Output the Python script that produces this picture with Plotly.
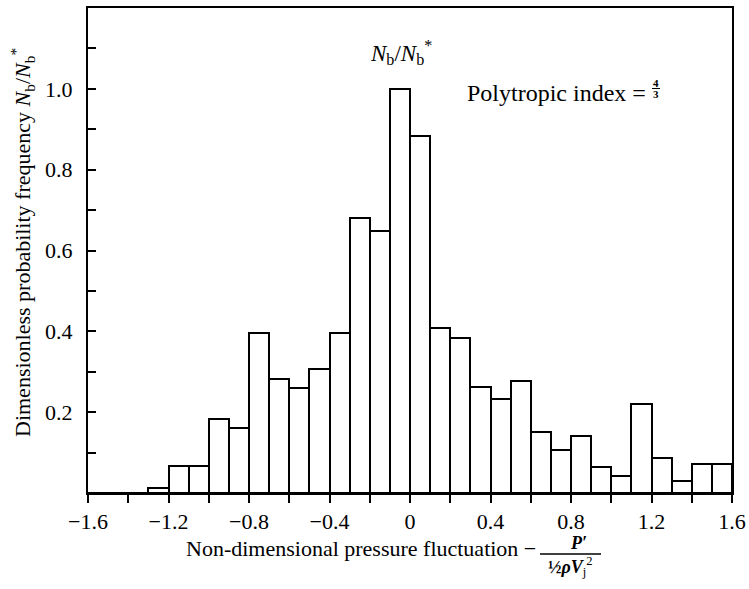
import plotly.graph_objects as go

# Bin centres of the pressure-fluctuation histogram (bin width 0.1)
bin_centres = [-1.55, -1.45, -1.35, -1.25, -1.15, -1.05, -0.95, -0.85,
               -0.75, -0.65, -0.55, -0.45, -0.35, -0.25, -0.15, -0.05,
               0.05, 0.15, 0.25, 0.35, 0.45, 0.55, 0.65, 0.75,
               0.85, 0.95, 1.05, 1.15, 1.25, 1.35, 1.45, 1.55]
bin_width = 0.1
# Dimensionless probability frequency Nb/Nb*
frequency = [0.0, 0.0, 0.0, 0.013, 0.067, 0.067, 0.183, 0.160,
             0.395, 0.282, 0.261, 0.306, 0.397, 0.680, 0.649, 1.000,
             0.884, 0.408, 0.384, 0.263, 0.233, 0.276, 0.152, 0.106,
             0.141, 0.064, 0.042, 0.220, 0.086, 0.030, 0.073, 0.073]

x_tick_vals = [-1.6, -1.4, -1.2, -1.0, -0.8, -0.6, -0.4, -0.2, 0.0,
               0.2, 0.4, 0.6, 0.8, 1.0, 1.2, 1.4, 1.6]
x_tick_text = ["\u22121.6", "", "\u22121.2", "", "\u22120.8", "", "\u22120.4", "", "0",
               "", "0.4", "", "0.8", "", "1.2", "", "1.6"]
y_tick_vals = [0.1, 0.2, 0.3, 0.4, 0.5, 0.6, 0.7, 0.8, 0.9, 1.0, 1.1]
y_tick_text = ["", "0.2", "", "0.4", "", "0.6", "", "0.8", "", "1.0", ""]

FONT = "Liberation Serif"

fig = go.Figure(go.Bar(
    x=bin_centres, y=frequency, width=bin_width,
    marker=dict(color="white", line=dict(color="black", width=2)),
    showlegend=False,
))

W, H = 749, 589
ml, mr, mt, mb = 88, 17, 8, 96
pw, ph = W - ml - mr, H - mt - mb


def px(xp):
    return (xp - ml) / pw


def py(yp):
    return (H - mb - yp) / ph


fig.update_layout(
    width=W, height=H,
    margin=dict(l=ml, r=mr, t=mt, b=mb, autoexpand=False),
    plot_bgcolor="white", paper_bgcolor="white",
    font=dict(family=FONT, color="black", size=22),
    bargap=0,
    xaxis=dict(range=[-1.6, 1.6], tickvals=x_tick_vals, ticktext=x_tick_text,
               ticks="outside", ticklen=8, tickwidth=1.5, tickcolor="black",
               showline=True, linewidth=2, linecolor="black", mirror=True,
               showgrid=False, zeroline=False, tickfont=dict(size=22)),
    yaxis=dict(range=[0, 1.2], tickvals=y_tick_vals, ticktext=y_tick_text,
               ticks="inside", ticklen=8, tickwidth=1.5, tickcolor="black",
               showline=True, linewidth=2, linecolor="black", mirror=True,
               showgrid=False, zeroline=False, tickfont=dict(size=22),
               ticklabelstandoff=9),
)

ann = []
# y-axis title
ann.append(dict(xref="paper", yref="paper", x=px(22), y=py(243), textangle=-90,
                text="Dimensionless probability frequency <i>N</i><sub>b</sub>/<i>N</i><sub>b</sub><sup>*</sup>",
                showarrow=False, font=dict(size=22), xanchor="center", yanchor="middle"))
# x-axis title (with stacked fraction)
ann.append(dict(xref="paper", yref="paper", x=px(538), y=py(548),
                text="Non-dimensional pressure fluctuation \u2212",
                showarrow=False, font=dict(size=22), xanchor="right", yanchor="middle"))
ann.append(dict(xref="paper", yref="paper", x=px(578), y=py(543),
                text="<b><i>P\u2032</i></b>", showarrow=False, font=dict(size=18),
                xanchor="center", yanchor="middle"))
ann.append(dict(xref="paper", yref="paper", x=px(570), y=py(566),
                text="<b>\u00bd<i>\u03c1V</i></b><sub>j</sub><sup>2</sup>", showarrow=False,
                font=dict(size=18), xanchor="center", yanchor="middle"))
# in-plot labels
ann.append(dict(xref="paper", yref="paper", x=px(401), y=py(52),
                text="<i>N</i><sub>b</sub>/<i>N</i><sub>b</sub><sup>*</sup>",
                showarrow=False, font=dict(size=23), xanchor="center", yanchor="middle"))
ann.append(dict(xref="paper", yref="paper", x=px(648), y=py(93),
                text="Polytropic index =", showarrow=False, font=dict(size=24),
                xanchor="right", yanchor="middle"))
ann.append(dict(xref="paper", yref="paper", x=px(656), y=py(83),
                text="<b>4</b>", showarrow=False, font=dict(size=11),
                xanchor="center", yanchor="middle"))
ann.append(dict(xref="paper", yref="paper", x=px(656), y=py(94),
                text="<b>3</b>", showarrow=False, font=dict(size=11),
                xanchor="center", yanchor="middle"))
fig.update_layout(annotations=ann)

fig.add_shape(type="line", xref="paper", yref="paper",
              x0=px(540), x1=px(601), y0=py(554), y1=py(554),
              line=dict(color="black", width=1.5))
fig.add_shape(type="line", xref="paper", yref="paper",
              x0=px(652), x1=px(660), y0=py(88.5), y1=py(88.5),
              line=dict(color="black", width=1))

fig.write_html("out.html", config={"displayModeBar": False},
               post_script="document.body.style.margin='0';document.body.style.overflow='hidden';")
